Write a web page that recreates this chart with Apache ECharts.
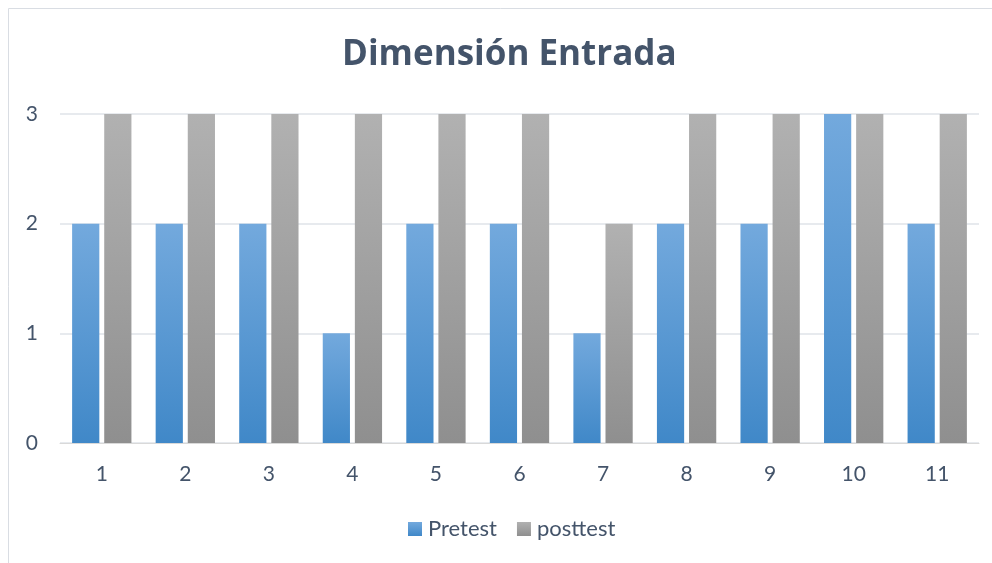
<!DOCTYPE html>
<html><head><meta charset="utf-8">
<script src="https://cdn.jsdelivr.net/npm/echarts@6/dist/echarts.min.js"></script>
<style>html,body{margin:0;padding:0;background:#fff}#c{width:992px;height:563px}</style>
</head><body><div id="c"></div>
<script>
const categories = ['1','2','3','4','5','6','7','8','9','10','11'];
const pretest = [2,2,2,1,2,2,1,2,2,3,2];
const posttest = [3,3,3,3,3,3,2,3,3,3,3];
const yTicks = [0,1,2,3];

const txt = '#44546A';
const font = 'Lato, "Open Sans", sans-serif';
const grad = (a,b)=>new echarts.graphic.LinearGradient(0,0,0,1,[{offset:0,color:a},{offset:1,color:b}]);
const chart = echarts.init(document.getElementById('c'));
chart.setOption({
  animation:false,
  graphic:[{type:'rect',shape:{x:8.5,y:8.5,width:1000,height:600},style:{fill:null,stroke:'#d9dde3',lineWidth:1}}],
  title:{text:'Dimensión Entrada',left:337,top:33,textStyle:{fontFamily:'"Open Sans", sans-serif',fontWeight:'bold',fontSize:35,color:txt}},
  legend:{bottom:18,left:403,itemWidth:14,itemHeight:14,itemGap:20,icon:'rect',
    textStyle:{fontFamily:font,fontSize:22,color:txt,padding:[0,0,0,1]},data:['Pretest','posttest']},
  grid:{left:60,right:13,top:114,bottom:120},
  xAxis:{type:'category',data:categories,axisTick:{show:false},
    axisLine:{lineStyle:{color:'#d9d9d9'}},
    axisLabel:{fontFamily:font,fontSize:21,color:txt,margin:21}},
  yAxis:{type:'value',min:yTicks[0],max:yTicks[yTicks.length-1],interval:1,
    axisLabel:{fontFamily:font,fontSize:21,color:txt,margin:22},
    splitLine:{lineStyle:{color:'#dfe3e8',width:1.5}}},
  series:[
    {name:'Pretest',type:'bar',data:pretest,barGap:'18%',barCategoryGap:'29%',
      itemStyle:{color:grad('#73a9dd','#4088c8')}},
    {name:'posttest',type:'bar',data:posttest,
      itemStyle:{color:grad('#b1b1b1','#8f8f8f')}}
  ]
});
</script></body></html>
